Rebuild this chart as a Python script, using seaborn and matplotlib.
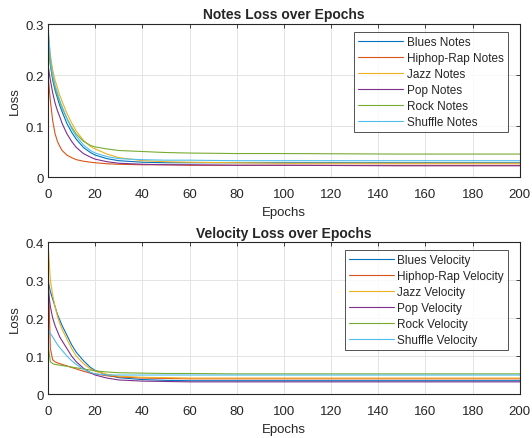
import matplotlib

matplotlib.use("Agg")
import matplotlib.pyplot as plt
import pandas as pd
import seaborn as sns

EPOCHS = [0, 1, 2, 3, 4, 5, 6, 8, 10, 12, 15, 18, 20, 25, 30, 40, 50, 60, 80, 100, 150, 200]

GENRES = ["Blues", "Hiphop-Rap", "Jazz", "Pop", "Rock", "Shuffle"]
COLORS = ["#0072BD", "#D95319", "#EDB120", "#7E2F8E", "#77AC30", "#4DBEEE"]

# notes loss
notes_blues = [0.28, 0.22, 0.19, 0.17, 0.155, 0.14, 0.128, 0.105, 0.088, 0.074, 0.058, 0.048, 0.043, 0.036, 0.032, 0.029, 0.028, 0.028, 0.028, 0.028, 0.028, 0.028]
notes_hiphop = [0.20, 0.15, 0.11, 0.085, 0.07, 0.06, 0.052, 0.043, 0.038, 0.034, 0.031, 0.029, 0.028, 0.026, 0.025, 0.024, 0.024, 0.023, 0.023, 0.023, 0.023, 0.023]
notes_jazz = [0.29, 0.24, 0.21, 0.19, 0.175, 0.16, 0.148, 0.125, 0.106, 0.09, 0.072, 0.06, 0.055, 0.045, 0.038, 0.032, 0.030, 0.029, 0.028, 0.027, 0.027, 0.027]
notes_pop = [0.22, 0.19, 0.165, 0.145, 0.13, 0.118, 0.105, 0.085, 0.07, 0.058, 0.046, 0.039, 0.035, 0.03, 0.027, 0.025, 0.024, 0.024, 0.023, 0.023, 0.022, 0.022]
notes_rock = [0.27, 0.22, 0.195, 0.175, 0.16, 0.148, 0.135, 0.115, 0.098, 0.084, 0.07, 0.062, 0.059, 0.055, 0.052, 0.05, 0.048, 0.047, 0.046, 0.046, 0.045, 0.045]
notes_shuffle = [0.30, 0.23, 0.2, 0.18, 0.165, 0.15, 0.138, 0.115, 0.095, 0.08, 0.063, 0.052, 0.047, 0.04, 0.036, 0.034, 0.033, 0.033, 0.032, 0.032, 0.032, 0.032]

# velocity loss
vel_blues = [0.30, 0.27, 0.25, 0.23, 0.21, 0.195, 0.18, 0.155, 0.13, 0.11, 0.088, 0.07, 0.062, 0.05, 0.043, 0.038, 0.036, 0.035, 0.035, 0.035, 0.035, 0.035]
vel_hiphop = [0.35, 0.12, 0.09, 0.085, 0.082, 0.08, 0.078, 0.074, 0.07, 0.066, 0.06, 0.055, 0.053, 0.048, 0.045, 0.042, 0.041, 0.040, 0.040, 0.040, 0.040, 0.040]
vel_jazz = [0.40, 0.30, 0.26, 0.23, 0.205, 0.185, 0.17, 0.145, 0.12, 0.1, 0.08, 0.066, 0.06, 0.052, 0.047, 0.044, 0.043, 0.042, 0.042, 0.042, 0.042, 0.042]
vel_pop = [0.28, 0.23, 0.2, 0.18, 0.165, 0.15, 0.14, 0.12, 0.1, 0.085, 0.068, 0.056, 0.05, 0.042, 0.037, 0.034, 0.033, 0.032, 0.032, 0.032, 0.032, 0.032]
vel_rock = [0.13, 0.085, 0.08, 0.078, 0.077, 0.076, 0.075, 0.073, 0.071, 0.069, 0.066, 0.063, 0.061, 0.058, 0.056, 0.055, 0.054, 0.054, 0.053, 0.053, 0.053, 0.053]
vel_shuffle = [0.17, 0.16, 0.15, 0.14, 0.13, 0.122, 0.115, 0.1, 0.088, 0.078, 0.065, 0.057, 0.053, 0.05, 0.05, 0.05, 0.05, 0.05, 0.05, 0.05, 0.05, 0.05]

NOTES = [notes_blues, notes_hiphop, notes_jazz, notes_pop, notes_rock, notes_shuffle]
VELOCITY = [vel_blues, vel_hiphop, vel_jazz, vel_pop, vel_rock, vel_shuffle]


def draw_panel(ax, series, suffix, title, ymax, yticks):
    for genre, color, values in zip(GENRES, COLORS, series):
        df = pd.DataFrame({"epoch": EPOCHS, "loss": values})
        sns.lineplot(data=df, x="epoch", y="loss", ax=ax, color=color,
                     linewidth=0.8, label=f"{genre} {suffix}")
    ax.set_xlim(0, 200)
    ax.set_ylim(0, ymax)
    ax.set_xticks(range(0, 201, 20))
    ax.set_yticks(yticks)
    ax.set_yticklabels([f"{t:g}" for t in yticks])
    ax.set_title(title, fontsize=10, fontweight="bold", pad=4)
    ax.set_xlabel("Epochs", fontsize=9.5, labelpad=4)
    ax.set_ylabel("Loss", fontsize=9.5, labelpad=3)
    ax.grid(True, color="#E3E3E3", linewidth=0.7)
    ax.tick_params(direction="in", length=3, width=0.6, labelsize=9.5,
                   top=True, right=True, colors="#262626")
    ax.tick_params(axis="x", pad=8)
    ax.tick_params(axis="y", pad=3)
    for spine in ax.spines.values():
        spine.set_color("#262626")
        spine.set_linewidth(0.8)
    leg = ax.legend(loc="upper right", bbox_to_anchor=(1 - 12 / 472, 1 - 8 / 153),
                    borderaxespad=0, fontsize=8.5, frameon=True, fancybox=False,
                    borderpad=0.35, labelspacing=0.34, handlelength=3.8,
                    handletextpad=0.3)
    leg.get_frame().set_edgecolor("#262626")
    leg.get_frame().set_linewidth(0.7)


sns.set_theme(style="whitegrid")
plt.rcParams["font.family"] = ["Liberation Sans", "DejaVu Sans"]

fig = plt.figure(figsize=(5.32, 4.39), dpi=100)
ax_top = fig.add_axes([0.0902, 0.5945, 0.887, 0.3485])
ax_bot = fig.add_axes([0.0902, 0.1002, 0.887, 0.346])

draw_panel(ax_top, NOTES, "Notes", "Notes Loss over Epochs", 0.3, [0, 0.1, 0.2, 0.3])
draw_panel(ax_bot, VELOCITY, "Velocity", "Velocity Loss over Epochs", 0.4, [0, 0.1, 0.2, 0.3, 0.4])

fig.savefig("out.png", dpi=100)
